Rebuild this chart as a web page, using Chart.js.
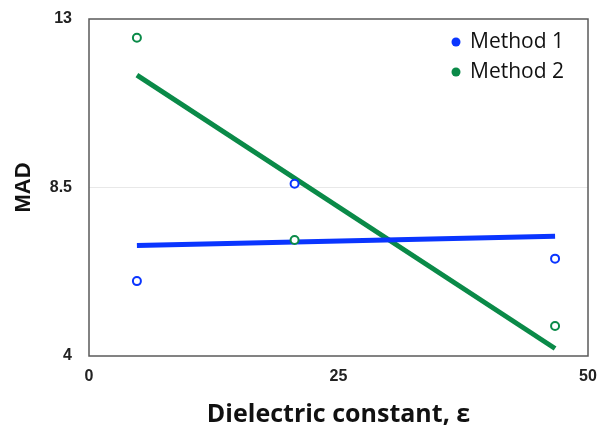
<!DOCTYPE html>
<html>
<head>
<meta charset="utf-8">
<script src="https://cdn.jsdelivr.net/npm/chart.js@4.4.1/dist/chart.umd.min.js"></script>
<style>
  html, body { margin: 0; padding: 0; background: #fff; }
  #wrap { width: 599px; height: 430px; }
</style>
</head>
<body>
<div id="wrap"><canvas id="myChart" width="599" height="430"></canvas></div>
<script>
// values
const seriesNames = ["Method 1", "Method 2"];
const epsilon = [4.8, 20.6, 46.7];
const method1 = [6.0, 8.6, 6.6];
const method2 = [12.5, 7.1, 4.8];
// fitted lines, end points as drawn
const trendX = [4.8, 46.7];
const trend1 = [6.95, 7.2];
const trend2 = [11.5, 4.2];
const xTicks = [0, 25, 50];
const yTicks = [4, 8.5, 13];

const blue = "#0a35ff";
const green = "#0a8a48";

function toPoints(xs, ys) {
    return xs.map(function (x, i) { return { x: x, y: ys[i] }; });
}

// box round the plot + legend inside top right
const plotBox = {
    id: "plotBox",
    afterDatasetsDraw: function (chart) {
        const a = chart.chartArea;
        const ctx = chart.ctx;
        ctx.save();
        ctx.strokeStyle = "#5a5a5a";
        ctx.lineWidth = 1.5;
        ctx.strokeRect(a.left, a.top, a.right - a.left, a.bottom - a.top);

        const colors = [blue, green];
        ctx.font = "21px 'Open Sans'";
        ctx.textBaseline = "middle";
        ctx.textAlign = "left";
        seriesNames.forEach(function (name, i) {
            const y = a.top + 23 + i * 30;
            ctx.fillStyle = colors[i];
            ctx.beginPath();
            ctx.arc(a.left + 367, y, 4.5, 0, Math.PI * 2);
            ctx.fill();
            ctx.fillStyle = "#111";
            ctx.fillText(name, a.left + 381, y);
        });
        ctx.restore();
    }
};

const ctx = document.getElementById("myChart").getContext("2d");
const chartInstance = new Chart(ctx, {
    type: "scatter",
    data: {
        datasets: [
            {
                label: seriesNames[0],
                data: toPoints(epsilon, method1),
                borderColor: blue,
                backgroundColor: "#fff",
                pointRadius: 4,
                borderWidth: 2,
                order: 0
            },
            {
                label: seriesNames[1],
                data: toPoints(epsilon, method2),
                borderColor: green,
                backgroundColor: "#fff",
                pointRadius: 4,
                borderWidth: 2,
                order: 0
            },
            {
                label: "fit 1",
                data: toPoints(trendX, trend1),
                showLine: true,
                borderColor: blue,
                borderWidth: 5,
                pointRadius: 0,
                order: 1
            },
            {
                label: "fit 2",
                data: toPoints(trendX, trend2),
                showLine: true,
                borderColor: green,
                borderWidth: 5,
                pointRadius: 0,
                order: 1
            }
        ]
    },
    options: {
        responsive: false,
        animation: false,
        layout: { padding: { left: 0, right: 11, top: 19, bottom: 0 } },
        plugins: {
            legend: { display: false },
            tooltip: { enabled: false }
        },
        scales: {
            x: {
                type: "linear",
                min: 0,
                max: 50,
                afterBuildTicks: function (axis) {
                    axis.ticks = xTicks.map(function (v) { return { value: v }; });
                },
                afterFit: function (axis) {
                    axis.height = 74;
                    axis.paddingLeft = 0;
                    axis.paddingRight = 0;
                },
                grid: { display: false, drawTicks: false },
                border: { display: false },
                ticks: {
                    padding: 11,
                    color: "#222",
                    font: { family: "'Liberation Sans'", size: 16, weight: "bold" }
                },
                title: {
                    display: true,
                    text: "Dielectric constant, ε",
                    color: "#111",
                    padding: { top: 17, bottom: 0 },
                    font: { family: "'Open Sans'", size: 25, weight: "bold" }
                }
            },
            y: {
                min: 4,
                max: 13,
                afterBuildTicks: function (axis) {
                    axis.ticks = yTicks.map(function (v) { return { value: v }; });
                },
                afterFit: function (axis) {
                    axis.width = 89;
                    axis.paddingTop = 0;
                    axis.paddingBottom = 0;
                },
                grid: {
                    drawTicks: false,
                    color: function (c) {
                        return c.tick && c.tick.value === 8.5 ? "#e8e8e8" : "rgba(0,0,0,0)";
                    }
                },
                border: { display: false },
                ticks: {
                    padding: 17,
                    color: "#222",
                    font: { family: "'Liberation Sans'", size: 16, weight: "bold" }
                },
                title: {
                    display: true,
                    text: "MAD",
                    color: "#111",
                    padding: { top: 11, bottom: 0 },
                    font: { family: "'Liberation Sans'", size: 22, weight: "bold" }
                }
            }
        }
    },
    plugins: [plotBox]
});
</script>
</body>
</html>
